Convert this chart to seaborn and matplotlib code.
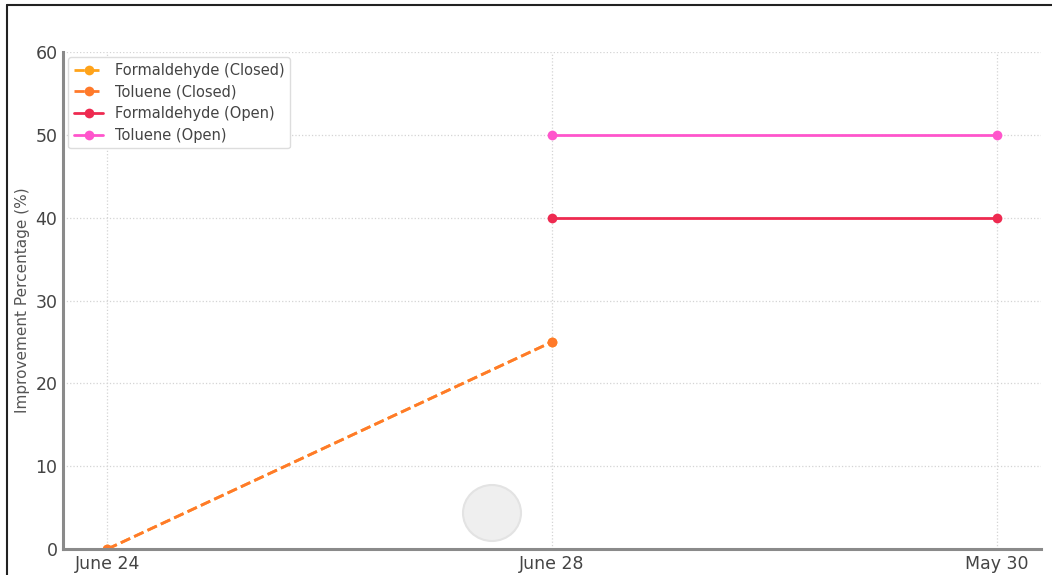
import matplotlib
matplotlib.use("Agg")
import matplotlib.pyplot as plt
import seaborn as sns
import numpy as np
import pandas as pd
from matplotlib.patches import Ellipse
from matplotlib.lines import Line2D

# ---- data ----
dates = ["June 24", "June 28", "May 30"]
formaldehyde_closed = [0, 25, np.nan]
toluene_closed = [0, 25, np.nan]
formaldehyde_open = [np.nan, 40, 40]
toluene_open = [np.nan, 50, 50]
series_names = ["Formaldehyde (Closed)", "Toluene (Closed)",
                "Formaldehyde (Open)", "Toluene (Open)"]
y_ticks = [0, 10, 20, 30, 40, 50, 60]

sns.set_theme(style="white")
plt.rcParams['font.family'] = ['DejaVu Sans']

W, H = 1052, 575
fig = plt.figure(figsize=(W / 100, H / 100), dpi=100)
ax = fig.add_axes([63 / W, 1 - 549 / H, (1041 - 63) / W, (549 - 52) / H])

x = np.arange(len(dates))
styles = [
    (formaldehyde_closed, "#FFA31A", "--"),
    (toluene_closed, "#FF7A2A", "--"),
    (formaldehyde_open, "#EE2A50", "-"),
    (toluene_open, "#FF55CC", "-"),
]
for name, (vals, color, ls) in zip(series_names, styles):
    sns.lineplot(x=x, y=vals, ax=ax, color=color, linestyle=ls, marker="o",
                 markersize=7, markeredgewidth=0, linewidth=2.0, label=name)

ax.set_xlim(-0.1, 2.1)
ax.set_ylim(0, 60)
ax.set_xticks(x)
ax.set_xticklabels(dates)
ax.set_yticks(y_ticks)
ax.grid(True, linestyle=":", color="#d4d4d4", linewidth=0.9)
for s in ["top", "right"]:
    ax.spines[s].set_visible(False)
for s in ["left", "bottom"]:
    ax.spines[s].set_color("#8a8a8a")
    ax.spines[s].set_linewidth(2.2)
ax.tick_params(axis="both", direction="in", length=4, width=1, color="#8a8a8a",
               labelsize=12.5, labelcolor="#444444", pad=4)
ax.set_ylabel("Improvement Percentage (%)", fontsize=11, color="#555555", labelpad=4)
ax.set_xlabel("")

leg = ax.legend(loc="upper left", fontsize=10.5, frameon=True, framealpha=1,
                edgecolor="#dddddd", borderaxespad=0.35, handlelength=2.0,
                labelspacing=0.45, labelcolor="#444444")

# watermark-like circle
fig.add_artist(Ellipse((492 / W, 1 - 513 / H), 58 / W, 56 / H, transform=fig.transFigure,
                       facecolor="#efefef", edgecolor="#e3e3e3", lw=1.5, zorder=5))

# image frame (top & left)
fig.add_artist(Line2D([7 / W, 7 / W], [0, 1 - 5 / H], transform=fig.transFigure, color="#222222", lw=1.5))
fig.add_artist(Line2D([7 / W, 1], [1 - 5 / H, 1 - 5 / H], transform=fig.transFigure, color="#222222", lw=1.5))

fig.savefig("out.png", dpi=100)
